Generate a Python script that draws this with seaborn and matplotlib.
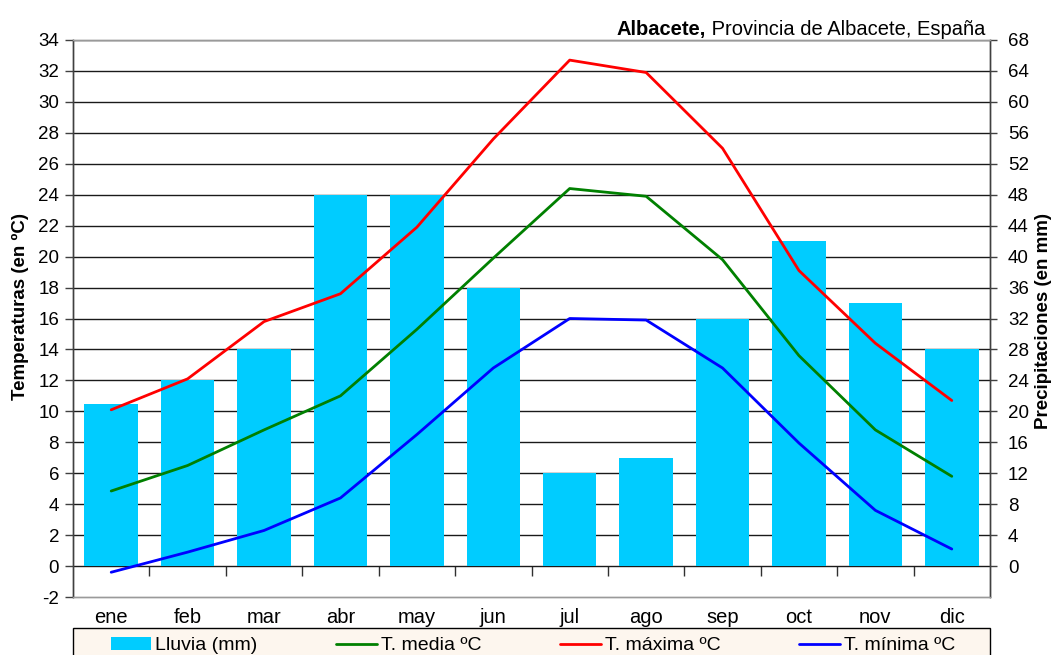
import numpy as np
import matplotlib
matplotlib.use("Agg")
import matplotlib.pyplot as plt
import matplotlib.patches as mpatches
import seaborn as sns

# Data
meses = ['ene', 'feb', 'mar', 'abr', 'may', 'jun', 'jul', 'ago', 'sep', 'oct', 'nov', 'dic']
lluvia = [21, 24, 28, 48, 48, 36, 12, 14, 32, 42, 34, 28]
t_maxima = [10.1, 12.1, 15.8, 17.6, 21.9, 27.6, 32.7, 31.9, 27.0, 19.1, 14.4, 10.7]
t_media = [4.85, 6.5, 8.8, 11.0, 15.3, 19.9, 24.4, 23.9, 19.8, 13.6, 8.8, 5.8]
t_minima = [-0.4, 0.9, 2.3, 4.4, 8.5, 12.8, 16.0, 15.9, 12.8, 7.95, 3.6, 1.1]
temp_ticks = list(range(-2, 35, 2))
lluvia_ticks = list(range(0, 69, 4))

sns.set_theme(style='white')
plt.rcParams['font.family'] = ['Liberation Sans', 'DejaVu Sans']
plt.rcParams['text.color'] = 'black'
plt.rcParams['axes.unicode_minus'] = False

W, H = 1052, 655
fig = plt.figure(figsize=(W / 100, H / 100), dpi=100)
x0, x1, y0, y1 = 73, 990, 40, 597
ax = fig.add_axes([x0 / W, 1 - y1 / H, (x1 - x0) / W, (y1 - y0) / H])

# bars on precipitation scale
sns.barplot(x=meses, y=lluvia, color='#00CCFF', saturation=1, width=0.7,
            ax=ax, label='Lluvia (mm)', legend=False, edgecolor='none', linewidth=0)
ax.set_ylim(-4, 68)
ax.set_xlim(-0.5, 11.5)
ax.grid(axis='y', color='#1a1a1a', lw=1)
ax.set_axisbelow(True)
ax.set_xlabel('')
ax.set_ylabel('')

# temperature lines on twin axis
ax2 = ax.twinx()
pos = np.arange(len(meses))
sns.lineplot(x=pos, y=t_media, color='#008000', lw=2, ax=ax2, label='T. media ºC', legend=False)
sns.lineplot(x=pos, y=t_maxima, color='#FF0000', lw=2, ax=ax2, label='T. máxima ºC', legend=False)
sns.lineplot(x=pos, y=t_minima, color='#0000FF', lw=2, ax=ax2, label='T. mínima ºC', legend=False)
ax2.set_ylim(-2, 34)
ax2.set_xlim(-0.5, 11.5)
ax2.set_ylabel('')

# precipitation ticks right, temperature ticks left
ax.yaxis.tick_right()
ax.set_yticks(lluvia_ticks)
ax2.yaxis.tick_left()
ax2.set_yticks(temp_ticks)

for a in (ax, ax2):
    a.spines['top'].set_color('#9a9a9a')
    a.spines['bottom'].set_color('#9a9a9a')
    a.spines['left'].set_color('#404040')
    a.spines['right'].set_color('#404040')
    for s in a.spines.values():
        s.set_linewidth(1)

ax.tick_params(axis='y', right=True, left=False, labelright=True, labelleft=False,
               direction='out', length=5, width=1, color='#404040', labelsize=13.5,
               pad=8, labelcolor='black')
ax2.tick_params(axis='y', left=True, right=False, labelleft=True, labelright=False,
                direction='out', length=6, width=1, color='#404040', labelsize=13.5,
                pad=4, labelcolor='black')
ax.set_xticks(pos)
ax.set_xticklabels(meses)
ax.tick_params(axis='x', length=0, labelsize=14.5, pad=8, labelcolor='black')

# category ticks on the zero line
sec = ax.secondary_xaxis(4 / 72)
sec.set_xticks(pos[:-1] + 0.5)
sec.set_xticklabels([])
sec.tick_params(axis='x', direction='out', length=7, width=1, color='#303030')
sec.spines['bottom'].set_visible(False)

# axis titles
fig.text(20 / W, 1 - 306 / H, 'Temperaturas (en ºC)', rotation=90, ha='center', va='center',
         fontsize=13.5, fontweight='bold')
fig.text(1043 / W, 1 - 321 / H, 'Precipitaciones (en mm)', rotation=90, ha='center', va='center',
         fontsize=13.5, fontweight='bold')

# title, bold place name followed by normal text
t_norm = fig.text(985 / W, 1 - 35 / H, ' Provincia de Albacete, España', ha='right',
                  va='baseline', fontsize=14.5)
fig.canvas.draw()
bb = t_norm.get_window_extent()
fig.text(bb.x0 / W, 1 - 35 / H, 'Albacete,', ha='right', va='baseline',
         fontsize=14.5, fontweight='bold')

# legend box across the plot width, entries inside it
box = mpatches.Rectangle((x0 / W, -0.02), (x1 - x0) / W, 1 - 628 / H + 0.02,
                         transform=fig.transFigure, facecolor='#FDF6EE',
                         edgecolor='black', lw=1, zorder=0, clip_on=False)
fig.patches.append(box)
h1, l1 = ax.get_legend_handles_labels()
h2, l2 = ax2.get_legend_handles_labels()
leg = fig.legend(h1 + h2, l1 + l2, loc='upper center',
                 bbox_to_anchor=(533 / W, 1 - 632 / H),
                 ncol=4, fontsize=14, frameon=False,
                 handlelength=2.1, handletextpad=0.2, columnspacing=4.05,
                 borderpad=0.25, borderaxespad=0)

fig.savefig('out.png', dpi=100)
